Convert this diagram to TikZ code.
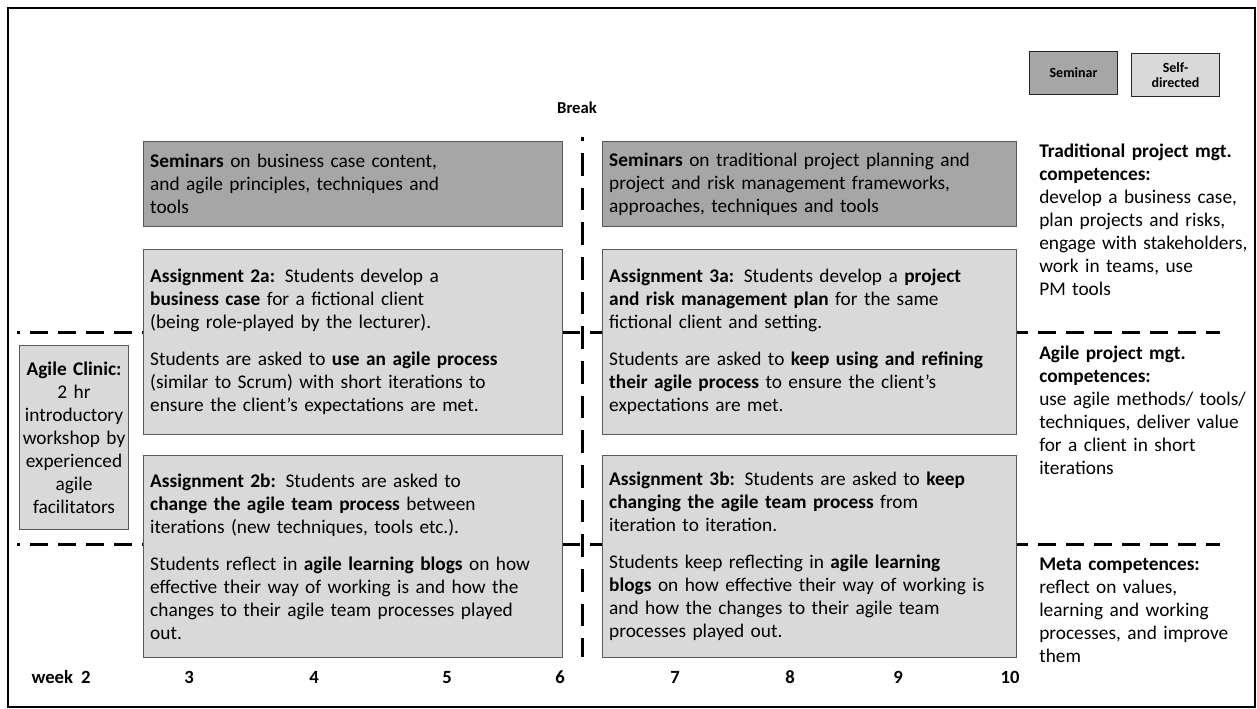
\documentclass[tikz,border=0pt]{standalone}
\usepackage{fontspec}
\setmainfont{Carlito}[WordSpace=1.9]
\usetikzlibrary{positioning, calc}
\definecolor{seminargray}{HTML}{A6A6A6}
\definecolor{selfgray}{HTML}{D9D9D9}
\definecolor{boxline}{HTML}{5A5A5A}

\begin{document}
\begin{tikzpicture}[
    x=0.75pt, y=-0.75pt,
    font=\fontsize{14.5}{17.25}\selectfont,
    seminarbox/.style={rectangle, draw=boxline, fill=seminargray, line width=0.8pt, anchor=north west, align=left, inner xsep=5pt, inner ysep=0pt},
    selfbox/.style={seminarbox, fill=selfgray},
    leftcol/.style={text width=304.25pt, minimum height=#1},
    rightcol/.style={text width=300.5pt, minimum height=#1},
    legendbox/.style={rectangle, draw=black!85, line width=0.8pt, anchor=north west, minimum width=66pt, minimum height=32pt, align=center, inner sep=0pt, font=\fontsize{10.5}{11.5}\selectfont\bfseries},
    outcome/.style={anchor=north west, align=left, inner sep=0pt, text width=165pt},
    week/.style={anchor=base, font=\fontsize{14}{16}\selectfont\bfseries},
    sepline/.style={line width=2.25pt, dash pattern=on 13pt off 8pt, dash phase=11pt},
    breakline/.style={line width=2.25pt, dash pattern=on 17pt off 9pt, dash phase=14pt}
]
\useasboundingbox (0,0) rectangle (1257,709);
\draw[line width=1.2pt] (8,8) rectangle (1255,707);

% Separators
\coordinate (sepA) at (17,333);
\coordinate (sepA') at (1220,333);
\coordinate (sepB) at (17,544);
\coordinate (sepB') at (1220,544);
\coordinate (brk) at (582,137);
\coordinate (brk') at (582,657);
\draw[sepline] (sepA) -- (sepA');
\draw[sepline] (sepB) -- (sepB');
\draw[breakline] (brk) -- (brk');

% Legend
\node[legendbox, fill=seminargray] (legsem) at (1029,51) {Seminar};
\node[legendbox, fill=selfgray] (legself) at (1131,53) {Self-\\directed};

\node[font=\fontsize{12.5}{14}\selectfont\bfseries] (break) at (577,108) {Break};

% Seminars
\node[seminarbox, leftcol=63.75pt] (sem2) at (143,141) {\textbf{Seminars} on business case content,\\ and agile principles, techniques and\\ tools};
\node[seminarbox, rightcol=63.75pt] (sem3) at (602,141) {\textbf{Seminars} on traditional project planning and\\ project and risk management frameworks,\\ approaches, techniques and tools};

% Assignments
\node[selfbox, leftcol=138.75pt] (ass2a) at (143,249) {\textbf{Assignment 2a:} Students develop a\\ \textbf{business case} for a fictional client\\ (being role-played by the lecturer).\\[10.5pt] Students are asked to \textbf{use an agile process}\\ (similar to Scrum) with short iterations to\\ ensure the client’s expectations are met.};
\node[selfbox, rightcol=138.75pt] (ass3a) at (602,249) {\textbf{Assignment 3a:} Students develop a \textbf{project}\\ \textbf{and risk management plan} for the same\\ fictional client and setting.\\[10.5pt] Students are asked to \textbf{keep using and refining}\\ \textbf{their agile process} to ensure the client’s\\ expectations are met.};
\node[selfbox, leftcol=151.5pt] (ass2b) at (143,455) {\textbf{Assignment 2b:} Students are asked to\\ \textbf{change the agile team process} between\\ iterations (new techniques, tools etc.).\\[10.5pt] Students reflect in \textbf{agile learning blogs} on how\\ effective their way of working is and how the\\ changes to their agile team processes played\\ out.};
\node[selfbox, rightcol=151.5pt] (ass3b) at (602,455) {\textbf{Assignment 3b:} Students are asked to \textbf{keep}\\ \textbf{changing the agile team process} from\\ iteration to iteration.\\[10.5pt] Students keep reflecting in \textbf{agile learning}\\ \textbf{blogs} on how effective their way of working is\\ and how the changes to their agile team\\ processes played out.};

\node[selfbox, align=center, text width=77.75pt, inner xsep=2pt, minimum height=138pt] (clinic) at (19,345) {\textbf{Agile Clinic:}\\ 2 hr\\ introductory\\ workshop by\\ experienced\\ agile\\ facilitators};

% Competences
\node[outcome] (trad) at (1039,144) {\textbf{Traditional project mgt.}\\ \textbf{competences:}\\ develop a business case,\\ plan projects and risks,\\ engage with stakeholders,\\ work in teams, use\\ PM tools};
\node[outcome] (agile) at (1039,346) {\textbf{Agile project mgt.}\\ \textbf{competences:}\\ use agile methods/ tools/\\ techniques, deliver value\\ for a client in short\\ iterations};
\node[outcome] (meta) at (1039,558) {\textbf{Meta competences:}\\ reflect on values,\\ learning and working\\ processes, and improve\\ them};

% Weeks
\node[week] (w2) at (61,683) {week 2};
\foreach \wk/\px in {3/189, 4/314, 5/447, 6/560, 7/675, 8/790, 9/898, 10/1010}
    \node[week] (w\wk) at (\px,683) {\wk};

\end{tikzpicture}
\end{document}
